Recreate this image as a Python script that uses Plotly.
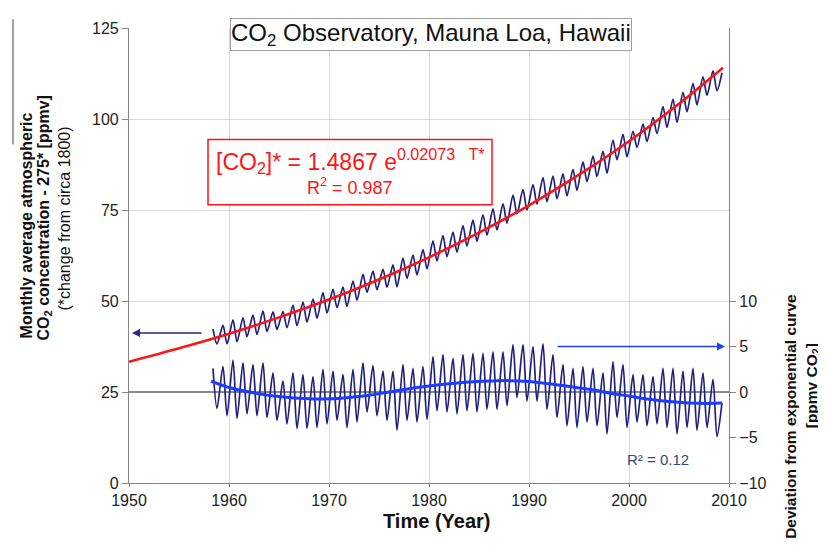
import plotly.graph_objects as go

# ---------------- data ----------------
years = list(range(1958, 2009))  # seasonal cycles 1958..2008

# upper curve: monthly CO2 - 275 [ppmv], seasonal maxima (~May) and minima (~Oct)
co2_peak = [42.3, 43.3, 44.8, 45.4, 46.1, 47.2, 47.0, 47.1, 48.9, 49.7,
            50.5, 52.3, 53.2, 53.8, 55.5, 57.3, 58.2, 58.7, 59.9, 61.8,
            62.6, 64.1, 66.5, 68.0, 68.9, 70.7, 72.2, 73.7, 75.3, 76.7,
            79.1, 80.6, 82.0, 83.9, 84.3, 84.9, 86.2, 88.2, 89.8, 91.1,
            94.2, 95.8, 96.6, 98.6, 100.4, 103.4, 105.5, 107.3, 109.8, 111.6,
            113.2]
co2_trough = [38.2, 38.2, 38.8, 40.2, 40.8, 41.6, 42.2, 42.7, 43.2, 44.2,
              45.3, 46.7, 48.2, 48.5, 50.2, 52.4, 53.1, 53.8, 53.9, 56.2,
              57.2, 58.8, 61.0, 62.2, 63.4, 65.1, 66.4, 68.1, 69.5, 71.4,
              73.9, 75.0, 76.6, 77.3, 78.1, 78.9, 80.4, 82.8, 84.2, 85.1,
              88.8, 89.6, 92.2, 93.8, 96.0, 97.7, 99.1, 102.0, 103.9, 106.5,
              107.8]

# lower curve: deviation from exponential curve [ppmv]
dev_peak = [2.6, 2.8, 3.5, 3.2, 3.0, 3.2, 2.1, 1.2, 2.1, 1.9,
            1.7, 2.5, 2.3, 1.9, 2.5, 3.2, 2.9, 2.3, 2.3, 3.0,
            2.6, 2.8, 3.9, 4.1, 3.7, 4.1, 4.25, 4.25, 4.4, 4.4,
            5.2, 5.2, 5.0, 5.3, 4.1, 3.0, 2.6, 2.8, 2.6, 2.1,
            3.35, 3.0, 1.9, 1.9, 1.7, 2.6, 2.6, 2.3, 2.6, 2.1,
            1.4]
dev_trough = [-1.8, -2.6, -2.9, -2.4, -2.6, -2.8, -3.1, -3.5, -4.0, -4.0,
              -3.9, -3.5, -3.1, -3.9, -3.3, -2.2, -2.6, -3.1, -4.2, -3.1,
              -3.3, -3.0, -2.05, -2.2, -2.4, -2.05, -2.2, -1.9, -1.9, -1.5,
              -0.6, -1.0, -1.0, -1.9, -2.8, -3.7, -3.9, -3.3, -3.7, -4.6,
              -2.8, -3.9, -3.3, -3.7, -3.5, -3.9, -4.6, -3.9, -4.2, -3.9,
              -4.9]
end_year = 2009.3
co2_end = 112.7
dev_end = -1.2

# exponential fit curve (red)
fit_years = [1950, 1955, 1960, 1965, 1970, 1975, 1980, 1985, 1990, 1995, 2000, 2005, 2009.4]
fit_vals = [33.3, 37.0, 41.0, 45.5, 50.4, 55.9, 62.0, 68.8, 76.3, 84.7, 93.9, 104.2, 114.1]

# smooth trend of deviations (blue)
trend_years = [1958.2, 1960, 1962, 1965, 1968, 1970, 1972, 1974, 1976, 1978, 1980, 1982,
               1984, 1986, 1988, 1990, 1992, 1994, 1996, 1998, 2000, 2002, 2004, 2006,
               2008, 2009.3]
trend_vals = [1.2, 0.5, 0.0, -0.5, -0.75, -0.75, -0.6, -0.35, 0.0, 0.35, 0.65, 0.9,
              1.1, 1.2, 1.25, 1.15, 0.9, 0.6, 0.3, -0.1, -0.45, -0.8, -1.05, -1.2,
              -1.25, -1.2]

x_ticks = [1950, 1960, 1970, 1980, 1990, 2000, 2010]
y_ticks = [0, 25, 50, 75, 100, 125]
y2_ticks = [-10, -5, 0, 5, 10]

# ---------------- build zig-zag series ----------------
xs, up, lo = [], [], []
for i, yr in enumerate(years):
    xs += [yr + 0.4, yr + 0.8]
    up += [co2_peak[i], co2_trough[i]]
    lo += [dev_peak[i], dev_trough[i]]
xs.append(end_year)
up.append(co2_end)
lo.append(dev_end)

NAVY = '#20207C'
FONT = 'Liberation Sans, Arial, sans-serif'

fig = go.Figure()
fig.add_trace(go.Scatter(x=xs, y=up, mode='lines', yaxis='y',
                         line=dict(color=NAVY, width=1.7, shape='spline', smoothing=0.8),
                         hoverinfo='skip'))
fig.add_trace(go.Scatter(x=fit_years, y=fit_vals, mode='lines', yaxis='y',
                         line=dict(color='#FF1414', width=2.6, shape='spline'),
                         hoverinfo='skip'))
fig.add_trace(go.Scatter(x=xs, y=lo, mode='lines', yaxis='y2',
                         line=dict(color=NAVY, width=1.7, shape='spline', smoothing=0.8),
                         hoverinfo='skip'))
fig.add_trace(go.Scatter(x=trend_years, y=trend_vals, mode='lines', yaxis='y2',
                         line=dict(color='#1E3CFF', width=3, shape='spline'),
                         hoverinfo='skip'))

GRID = '#D9D9D9'
AX = '#868686'

# page body has an 8px margin: figure is drawn at (8, 8)
fig.update_layout(
    width=818, height=542,
    margin=dict(l=121, r=97, t=14, b=67),
    paper_bgcolor='white', plot_bgcolor='white',
    showlegend=False,
    font=dict(family=FONT, color='#222222'),
    xaxis=dict(range=[1950, 2010], tickvals=x_ticks, showgrid=True, gridcolor=GRID,
               showline=True, linecolor=AX, linewidth=1.2, ticks='outside', ticklen=3,
               tickcolor=AX, zeroline=False, tickfont=dict(size=16, color='#222222')),
    yaxis=dict(range=[0, 125], tickvals=y_ticks, showgrid=True, gridcolor=GRID,
               showline=True, linecolor=AX, linewidth=1.2, ticks='outside', ticklen=6,
               tickcolor=AX, zeroline=False, tickfont=dict(size=16, color='#222222')),
    yaxis2=dict(range=[-10, 40], tickvals=y2_ticks, overlaying='y', side='right',
                showgrid=False, zeroline=True, zerolinecolor='#8C8C8C', zerolinewidth=1.5,
                showline=True, linecolor=AX, linewidth=1.2, ticks='outside', ticklen=6,
                tickcolor=AX, tickfont=dict(size=16, color='#222222')),
)

def px_x(p):
    return (p - 129) / 600.0

def px_y(p):
    return (483 - p) / 461.0

ann = []
# title box
ann.append(dict(text='CO<sub>2</sub> Observatory, Mauna Loa, Hawaii', xref='paper', yref='paper',
                x=px_x(431), y=px_y(29), showarrow=False, font=dict(size=24, color='#111111'),
                bordercolor='#A0A0A0', borderwidth=1, borderpad=0, bgcolor='white',
                xanchor='center', yanchor='middle'))
# equation
ann.append(dict(text='[CO<sub>2</sub>]* = 1.4867 e<sup>0.02073&nbsp;&nbsp;&nbsp;T*</sup>',
                xref='paper', yref='paper', x=px_x(350), y=px_y(157), showarrow=False,
                font=dict(size=23, color='#FF1414'), xanchor='center', yanchor='middle'))
ann.append(dict(text='R<sup>2</sup> = 0.987', xref='paper', yref='paper', x=px_x(350), y=px_y(183),
                showarrow=False, font=dict(size=18, color='#FF1414'),
                xanchor='center', yanchor='middle'))
# R2 lower
ann.append(dict(text='R² = 0.12', xref='paper', yref='paper', x=px_x(658), y=px_y(459),
                showarrow=False, font=dict(size=15, color='#2F4A80'),
                xanchor='center', yanchor='middle'))
# x axis title
ann.append(dict(text='<b>Time (Year)</b>', xref='paper', yref='paper',
                x=px_x(436), y=px_y(522), showarrow=False,
                font=dict(size=20, color='#111111'), xanchor='center', yanchor='middle'))
# left axis title lines
ann.append(dict(text='<b>Monthly average atmospheric</b>', xref='paper', yref='paper',
                x=px_x(26), y=px_y(222), textangle=-90, showarrow=False,
                font=dict(size=16, color='#111111'), xanchor='center', yanchor='middle'))
ann.append(dict(text='<b>CO<sub>2</sub> concentration - 275* [ppmv]</b>', xref='paper', yref='paper',
                x=px_x(44), y=px_y(215), textangle=-90, showarrow=False,
                font=dict(size=16, color='#111111'), xanchor='center', yanchor='middle'))
ann.append(dict(text='(*change from circa 1800)', xref='paper', yref='paper',
                x=px_x(64), y=px_y(215), textangle=-90, showarrow=False,
                font=dict(size=16, color='#111111'), xanchor='center', yanchor='middle'))
# right axis title lines
ann.append(dict(text='<b>Deviation from exponential curve</b>', xref='paper', yref='paper',
                x=px_x(791), y=px_y(416), textangle=-90, showarrow=False,
                font=dict(size=15.5, color='#111111'), xanchor='center', yanchor='middle'))
ann.append(dict(text='<b>[ppmv CO<sub>2</sub>]</b>', xref='paper', yref='paper',
                x=px_x(812), y=px_y(385), textangle=-90, showarrow=False,
                font=dict(size=15.5, color='#111111'), xanchor='center', yanchor='middle'))
# arrows
ann.append(dict(text='', x=1950.3, y=41.2, xref='x', yref='y', ax=1957.4, ay=41.2,
                axref='x', ayref='y', showarrow=True, arrowhead=2, arrowsize=1,
                arrowwidth=1.6, arrowcolor='#262680'))
ann.append(dict(text='', x=2009.6, y=5, xref='x', yref='y2', ax=1992.7, ay=5,
                axref='x', ayref='y2', showarrow=True, arrowhead=2, arrowsize=1,
                arrowwidth=1.6, arrowcolor='#1F3FFF'))
fig.update_layout(annotations=ann)

fig.update_layout(shapes=[
    dict(type='rect', xref='paper', yref='paper', x0=px_x(208), x1=px_x(492),
         y0=px_y(201), y1=px_y(135), line=dict(color='#FF1414', width=1.5),
         fillcolor='white', layer='above'),
    dict(type='line', xref='paper', yref='paper', x0=px_x(13), x1=px_x(13),
         y0=px_y(140), y1=px_y(13), line=dict(color='#444444', width=1)),
])

fig.write_html('out.html')
